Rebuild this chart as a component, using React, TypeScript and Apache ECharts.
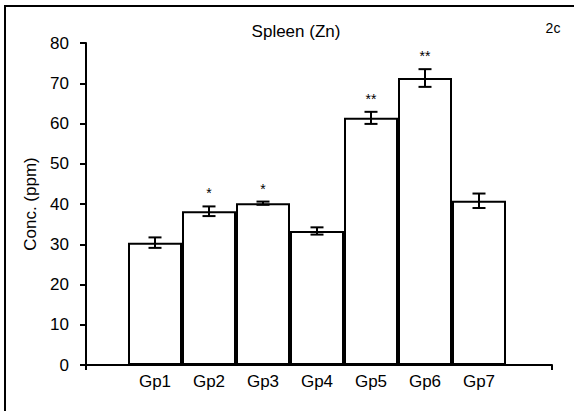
import React, { useEffect, useRef } from "react";
import * as echarts from "echarts";

const categories = ["Gp1", "Gp2", "Gp3", "Gp4", "Gp5", "Gp6", "Gp7"];
const means = [30.4, 38.2, 40.2, 33.3, 61.4, 71.3, 40.8];
const errors = [1.3, 1.2, 0.4, 0.9, 1.5, 2.2, 1.8];
const significance = ["", "*", "*", "", "**", "**", ""];
const yTicks = { min: 0, max: 80, interval: 10 };

const FONT = "'Liberation Sans', Arial, sans-serif";

export default function App() {
  const ref = useRef<HTMLDivElement>(null);
  useEffect(() => {
    if (!ref.current) return;
    const chart = echarts.init(ref.current, null, { renderer: "svg" });
    const errData = categories.map((c, i) => [i, means[i], errors[i]]);
    chart.setOption({
      animation: false,
      backgroundColor: "#fff",
      textStyle: { fontFamily: FONT, color: "#000" },
      title: [
        {
          text: "Spleen (Zn)",
          left: 291,
          top: 18,
          textAlign: "center",
          textStyle: { fontFamily: FONT, fontSize: 17, fontWeight: "normal", color: "#000" },
        },
        {
          text: "2c",
          left: 548,
          top: 16,
          textAlign: "center",
          textStyle: { fontFamily: FONT, fontSize: 14, fontWeight: "normal", color: "#000" },
        },
      ],
      grid: [
        { left: 128, width: 378, top: 43, bottom: 46 },
        { left: 86, width: 466, top: 43, bottom: 46 },
      ],
      xAxis: [
        {
          type: "category",
          gridIndex: 0,
          data: categories,
          axisLine: { show: false },
          axisTick: { show: false },
          axisLabel: { color: "#000", fontSize: 17, margin: 8, fontFamily: FONT },
          splitLine: { show: false },
        },
        {
          type: "value",
          gridIndex: 1,
          min: 0,
          max: 1,
          interval: 1,
          axisLine: { show: true, lineStyle: { color: "#000", width: 2 } },
          axisTick: { show: true, inside: false, length: 5, lineStyle: { color: "#000", width: 2 } },
          axisLabel: { show: false },
          splitLine: { show: false },
        },
      ],
      yAxis: [
        {
          type: "value",
          gridIndex: 0,
          ...yTicks,
          show: false,
          splitLine: { show: false },
        },
        {
          type: "value",
          gridIndex: 1,
          ...yTicks,
          name: "Conc. (ppm)",
          nameLocation: "middle",
          nameGap: 46,
          nameRotate: 90,
          nameTextStyle: { color: "#000", fontSize: 17, fontFamily: FONT },
          axisLine: { show: true, lineStyle: { color: "#000", width: 2 } },
          axisTick: { show: true, inside: false, length: 6, lineStyle: { color: "#000", width: 2 } },
          axisLabel: { color: "#000", fontSize: 17, margin: 17, fontFamily: FONT },
          splitLine: { show: false },
        },
      ],
      series: [
        {
          type: "bar",
          xAxisIndex: 0,
          yAxisIndex: 0,
          data: means,
          barCategoryGap: "0%",
          itemStyle: { color: "#fff", borderColor: "#000", borderWidth: 2 },
          z: 3,
        },
        {
          type: "custom",
          xAxisIndex: 0,
          yAxisIndex: 0,
          data: errData,
          itemStyle: { color: "#000" },
          z: 4,
          renderItem: (params: any, api: any) => {
            const i = api.value(0);
            const m = api.value(1);
            const e = api.value(2);
            const sig = significance[params.dataIndex];
            const top = api.coord([i, m + e]);
            const bot = api.coord([i, m - e]);
            const hw = 6.5;
            const st = { stroke: "#000", lineWidth: 2 };
            const children: any[] = [
              { type: "line", shape: { x1: top[0], y1: top[1], x2: bot[0], y2: bot[1] }, style: st },
              { type: "line", shape: { x1: top[0] - hw, y1: top[1], x2: top[0] + hw, y2: top[1] }, style: st },
              { type: "line", shape: { x1: bot[0] - hw, y1: bot[1], x2: bot[0] + hw, y2: bot[1] }, style: st },
            ];
            if (sig) {
              children.push({
                type: "text",
                x: top[0],
                y: top[1] - 6,
                style: {
                  text: sig,
                  fill: "#000",
                  font: `14px ${FONT}`,
                  align: "center",
                  verticalAlign: "bottom",
                },
              });
            }
            return { type: "group", children };
          },
        },
      ],
    });
    return () => chart.dispose();
  }, []);
  return (
    <div
      style={{ position: "absolute", left: 0, top: 0, width: 574, height: 411, overflow: "hidden", background: "#fff" }}
    >
      <div ref={ref} style={{ position: "absolute", left: 0, top: 0, width: 574, height: 411 }} />
      <div
        style={{
          position: "absolute",
          left: 3.5,
          top: 4.5,
          width: 1000,
          height: 1000,
          borderLeft: "2px solid #000",
          borderTop: "2px solid #000",
          pointerEvents: "none",
        }}
      />
    </div>
  );
}
